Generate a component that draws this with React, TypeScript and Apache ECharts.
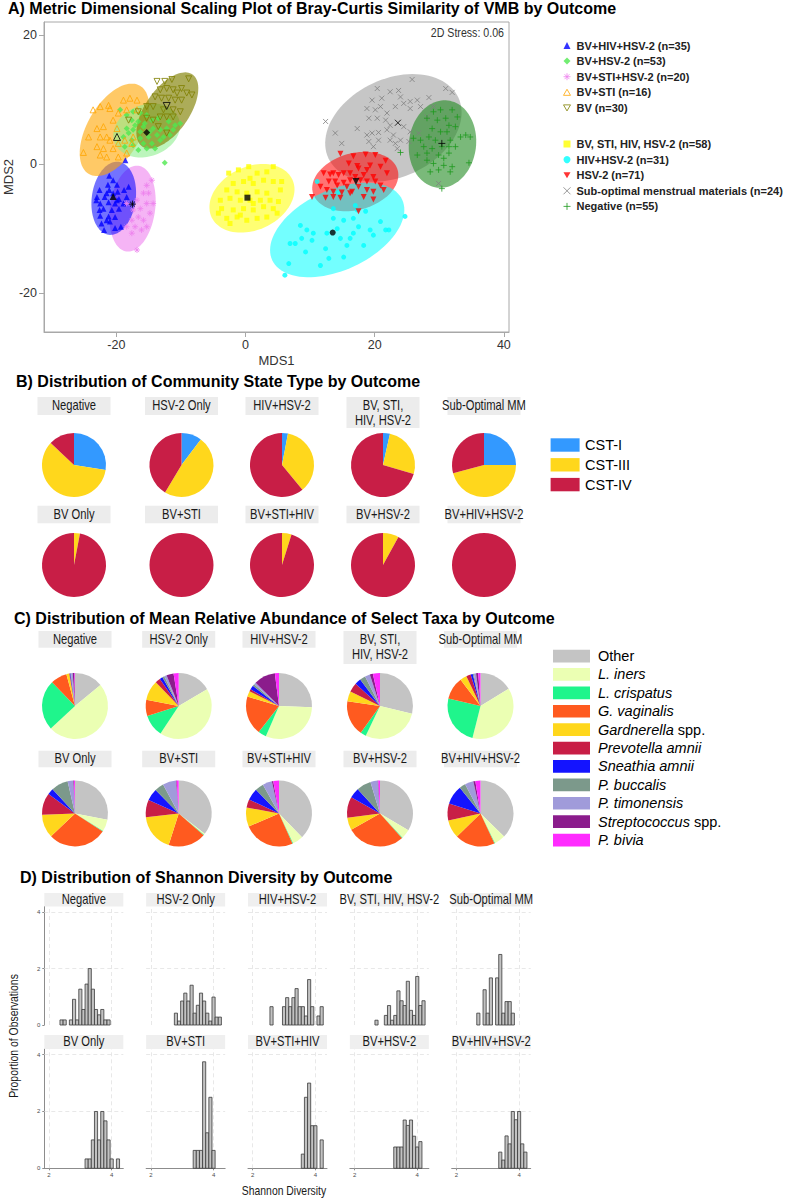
import React, { useEffect, useRef } from 'react';
import * as echarts from 'echarts';

const FONT = '"Liberation Sans", Arial, Helvetica, sans-serif';
const NARROW = 0.8;

// ---------------- Panel A: MDS scatter ----------------
const groupNames = [
  'BV+HIV+HSV-2 (n=35)', 'BV+HSV-2 (n=53)', 'BV+STI+HSV-2 (n=20)', 'BV+STI (n=16)', 'BV (n=30)',
  'BV, STI, HIV, HSV-2 (n=58)', 'HIV+HSV-2 (n=31)', 'HSV-2 (n=71)', 'Sub-optimal menstrual materials (n=24)', 'Negative (n=55)',
];
const groupColors = ['#0000FF', '#4FE84F', '#EE82EE', '#FFA500', '#808000', '#FFFF00', '#00FFFF', '#FF0000', '#7F7F7F', '#1E9A1E'];
const ellipseFills = [
  'rgba(0,0,255,0.55)', 'rgba(144,238,144,0.6)', 'rgba(238,130,238,0.6)', 'rgba(255,165,0,0.6)', 'rgba(128,128,0,0.65)',
  'rgba(255,255,0,0.55)', 'rgba(0,255,255,0.55)', 'rgba(255,0,0,0.55)', 'rgba(160,160,160,0.6)', 'rgba(34,139,34,0.6)',
];

const ptsBvHivHsv2 = [[-18.6,0.6],[-21.1,-1.8],[-20.5,-2.5],[-21.3,-3.2],[-19.9,-3.2],[-22.6,-4.0],[-21.1,-4.0],[-19.8,-4.3],[-18.8,-4.0],[-23.0,-5.1],[-21.8,-5.1],[-19.6,-5.4],[-18.4,-5.1],[-22.5,-6.1],[-21.2,-5.9],[-20.2,-6.1],[-18.9,-6.1],[-22.0,-6.9],[-20.7,-7.1],[-19.6,-6.9],[-22.5,-8.0],[-21.2,-8.1],[-20.2,-8.2],[-22.3,-9.2],[-21.0,-8.9],[-20.2,-9.9],[-21.9,-10.2],[-19.3,-9.7],[-23.1,-5.6],[-18.1,-3.5],[-20.5,-4.5],[-21.5,-4.5],[-19.9,-5.6],[-22.6,-7.1],[-21.5,-8.7]];
const ptsBvHsv2 = [[-19.4,8.4],[-18.4,7.6],[-17.4,8.1],[-16.3,7.9],[-15.3,7.6],[-17.6,6.8],[-16.6,6.6],[-15.6,6.3],[-14.5,6.8],[-13.5,7.1],[-11.9,6.6],[-10.9,6.0],[-10.1,6.3],[-18.4,5.5],[-17.4,5.3],[-16.3,5.0],[-14.3,5.5],[-13.2,5.3],[-12.2,5.5],[-11.2,5.3],[-18.9,4.2],[-17.6,3.7],[-16.3,4.0],[-15.0,4.2],[-13.7,4.5],[-12.7,4.2],[-11.7,4.5],[-18.7,2.7],[-17.4,2.9],[-15.8,3.2],[-14.5,3.2],[-13.2,3.7],[-16.6,2.2],[-15.3,2.4],[-14.0,2.4],[-12.5,0.2],[-18.1,4.8],[-17.1,6.0],[-14.8,5.0],[-15.8,5.8]];
const ptsBvStiHsv2 = [[-14.5,-2.5],[-15.3,-3.3],[-15.8,-4.5],[-15.0,-4.5],[-16.8,-5.6],[-15.3,-6.1],[-14.3,-6.1],[-16.3,-6.9],[-17.4,-7.1],[-14.8,-7.6],[-16.6,-8.2],[-17.6,-8.7],[-15.8,-8.7],[-18.4,-9.7],[-17.1,-9.7],[-16.1,-10.2],[-15.3,-9.7],[-17.6,-10.7],[-16.8,-13.3],[-18.4,-6.1]];
const ptsBvSti = [[-23.6,8.4],[-22.5,8.9],[-21.2,9.1],[-21.0,8.6],[-17.9,10.2],[-18.9,9.9],[-16.8,9.9],[-19.7,7.9],[-18.4,8.4],[-16.8,8.4],[-23.0,5.5],[-22.0,5.8],[-21.5,4.2],[-20.5,6.8],[-19.9,5.5],[-22.5,4.2],[-21.0,3.7],[-19.7,3.2],[-18.7,3.7],[-17.6,3.2],[-23.0,2.7],[-22.0,2.4],[-20.5,2.4],[-19.7,1.1],[-22.5,1.4],[-25.1,1.8],[-21.5,1.1],[-18.4,1.7],[-17.4,4.2],[-24.3,4.2]];
const ptsBv = [[-13.7,12.8],[-12.5,12.8],[-11.4,13.1],[-8.8,13.2],[-9.9,11.7],[-9.1,11.0],[-8.3,10.7],[-13.2,11.5],[-12.2,11.7],[-11.2,11.5],[-10.6,11.0],[-14.0,10.4],[-13.0,10.2],[-11.9,10.2],[-10.9,9.9],[-9.9,9.9],[-15.3,8.9],[-14.3,8.9],[-12.7,8.4],[-11.2,8.4],[-13.2,7.3],[-12.2,7.3],[-11.2,7.3],[-14.3,6.8],[-15.3,7.1],[-13.5,5.8],[-12.2,4.8],[-18.1,6.8],[-16.6,8.1],[-10.1,8.1]];
const ptsBvStiHivHsv2 = [[-2.6,-1.4],[-1.1,-0.9],[0.5,-0.4],[1.8,-1.4],[3.3,-1.2],[4.3,-0.4],[5.6,-2.7],[-1.9,-3.0],[-0.3,-2.7],[1.2,-3.0],[2.8,-2.5],[4.3,-2.7],[-2.9,-4.0],[-1.3,-4.3],[0.2,-4.5],[1.8,-4.3],[3.3,-4.5],[5.4,-4.0],[-3.9,-5.6],[-2.4,-5.3],[-0.8,-5.6],[0.7,-5.6],[2.3,-5.6],[3.8,-5.6],[5.1,-5.8],[-3.7,-6.9],[-1.9,-7.1],[-0.3,-6.9],[1.2,-7.1],[2.8,-6.6],[4.3,-6.9],[-2.9,-8.4],[-1.3,-8.2],[0.2,-8.7],[1.8,-8.4],[3.3,-8.2],[-2.4,-9.2],[-0.8,-7.9],[1.2,-6.1],[4.9,-7.6],[-4.2,-7.6],[0.7,-2.2]];
const ptsHivHsv2 = [[6.1,-17.2],[6.7,-15.4],[6.9,-12.3],[7.7,-12.3],[8.5,-9.5],[8.7,-11.5],[9.3,-13.6],[10.3,-11.8],[11.6,-15.7],[12.4,-13.1],[12.9,-14.6],[13.6,-6.9],[13.6,-8.4],[14.2,-10.0],[14.7,-11.5],[15.2,-14.4],[15.7,-12.6],[16.2,-11.5],[16.7,-8.4],[17.5,-9.7],[18.3,-12.6],[19.3,-10.2],[19.8,-11.0],[20.9,-8.9],[21.7,-10.2],[22.2,-10.2],[24.7,-8.1],[17.3,-7.1],[15.2,-8.7],[11.1,-2.7],[14.4,-4.4],[17.0,-6.4],[18.6,-7.3],[12.6,-10.7],[10.5,-10.7],[16.7,-10.7],[9.5,-10.2]];
const ptsHsv2 = [[14.7,1.6],[16.7,1.2],[18.6,1.5],[20.1,1.4],[21.7,0.5],[16.0,0.1],[17.3,-0.3],[17.5,-0.7],[19.3,-0.2],[20.9,-0.4],[12.1,-1.4],[13.1,-1.6],[13.6,-1.4],[14.4,-1.7],[15.2,-1.4],[16.2,-1.4],[17.0,-2.0],[18.3,-1.7],[19.8,-2.0],[21.9,-1.4],[12.9,-2.7],[13.9,-2.7],[15.2,-2.9],[16.2,-2.5],[17.8,-2.5],[18.8,-2.7],[20.1,-2.7],[12.6,-4.0],[13.6,-4.3],[14.9,-4.4],[16.5,-4.3],[17.5,-3.5],[18.8,-4.0],[19.8,-4.3],[21.4,-4.0],[10.3,-5.1],[12.4,-5.2],[13.6,-5.1],[14.7,-5.2],[16.2,-4.5],[18.3,-5.1],[19.8,-5.5],[14.2,-3.3],[15.7,-3.5],[17.5,-7.3],[11.6,-3.5],[20.9,-3.3],[18.8,-0.9]];
const ptsSubOptimal = [[20.4,11.7],[25.8,13.1],[21.1,10.2],[22.4,11.2],[23.7,11.4],[24.0,10.4],[19.6,9.9],[20.9,8.9],[23.2,8.9],[24.5,9.4],[25.5,9.7],[26.6,9.9],[28.4,10.3],[31.0,11.7],[32.0,11.1],[18.8,8.6],[20.1,8.4],[21.9,7.9],[25.5,8.6],[27.1,8.9],[12.4,6.6],[17.3,5.5],[19.1,7.1],[20.4,7.1],[21.7,6.8],[22.4,6.0],[24.5,5.8],[25.5,5.0],[13.9,4.8],[14.9,3.2],[18.8,4.5],[19.6,4.8],[20.6,4.9],[21.9,5.3],[22.9,4.5],[24.0,3.7],[25.3,3.5],[19.1,3.5],[20.6,3.7],[22.4,3.7],[23.2,3.2],[23.5,2.4],[19.8,2.7],[29.1,8.9],[29.9,-3.0],[26.8,4.8],[28.1,7.3]];
const ptsNegative = [[29.1,8.1],[30.2,8.4],[32.0,8.4],[28.1,7.1],[29.7,6.8],[31.0,7.1],[31.5,6.0],[32.5,5.8],[28.9,5.5],[30.2,5.0],[31.2,5.0],[33.3,4.2],[34.1,4.5],[34.8,4.2],[26.0,4.0],[27.1,3.7],[28.4,4.2],[29.4,3.7],[31.7,3.7],[27.6,2.7],[28.9,2.4],[30.4,2.7],[31.5,2.7],[32.5,2.7],[26.6,1.4],[28.1,1.7],[29.9,1.4],[31.5,1.7],[28.1,0.6],[29.1,0.1],[30.7,-0.2],[34.6,0.2],[28.6,-1.2],[29.9,-0.9],[31.7,-1.2],[30.4,-3.8],[24.0,1.8],[32.8,7.3],[30.7,0.9],[32.0,-0.4]];
const groupPoints = [ptsBvHivHsv2, ptsBvHsv2, ptsBvStiHsv2, ptsBvSti, ptsBv, ptsBvStiHivHsv2, ptsHivHsv2, ptsHsv2, ptsSubOptimal, ptsNegative];

// group centroids
const centroids = [[-20.5,-5.0],[-15.3,4.9],[-17.5,-6.2],[-19.9,4.2],[-12.2,9.0],[0.3,-5.2],[13.5,-10.6],[17.1,-2.7],[23.6,6.4],[30.4,3.2]];

// ellipses: [centre x, centre y, semi-major, semi-minor, angle in degrees]
const ellBvHivHsv2 = [-20.4, -5.3, 5.7, 3.4, 82];
const ellBvHsv2 = [-15.3, 5.2, 5.3, 4.0, 20];
const ellBvStiHsv2 = [-17.5, -6.9, 6.7, 3.5, 82];
const ellBvSti = [-20.3, 5.3, 7.9, 4.2, 60];
const ellBv = [-12.1, 8.3, 6.8, 3.4, 55];
const ellBvStiHivHsv2 = [1.0, -5.3, 6.9, 4.9, 25];
const ellHivHsv2 = [14.2, -10.2, 11.1, 6.2, 25];
const ellHsv2 = [17.0, -2.7, 6.8, 4.4, 15];
const ellSubOptimal = [22.9, 5.6, 11.1, 7.6, 25];
const ellNegative = [30.5, 3.1, 6.8, 5.2, 83];
const groupEllipses = [ellBvHivHsv2, ellBvHsv2, ellBvStiHsv2, ellBvSti, ellBv, ellBvStiHivHsv2, ellHivHsv2, ellHsv2, ellSubOptimal, ellNegative];
const ellipseDrawOrder = [8, 9, 7, 6, 5, 2, 0, 3, 1, 4];

const xTicksA = [-20, 0, 20, 40];
const yTicksA = [-20, 0, 20];

// ---------------- Panel B: CST pies ----------------
const outcomesTop = ['Negative', 'HSV-2 Only', 'HIV+HSV-2', 'BV, STI,\nHIV, HSV-2', 'Sub-Optimal MM'];
const outcomesBottom = ['BV Only', 'BV+STI', 'BV+STI+HIV', 'BV+HSV-2', 'BV+HIV+HSV-2'];
const outcomesD = ['Negative', 'HSV-2 Only', 'HIV+HSV-2', 'BV, STI, HIV, HSV-2', 'Sub-Optimal MM', 'BV Only', 'BV+STI', 'BV+STI+HIV', 'BV+HSV-2', 'BV+HIV+HSV-2'];

const cstCats = ['CST-I', 'CST-III', 'CST-IV'];
const cstColors = ['#3399FF', '#FFD71C', '#C81E46'];
const cstNegative = [27.5, 59.5, 13];
const cstHsv2Only = [10.3, 48.3, 41.4];
const cstHivHsv2 = [3, 36, 61];
const cstBvStiHivHsv2 = [3.5, 26, 70.5];
const cstSubOptimal = [25, 45.8, 29.2];
const cstBvOnly = [0, 3, 97];
const cstBvSti = [0, 0, 100];
const cstBvStiHiv = [0, 4.8, 95.2];
const cstBvHsv2 = [0, 8, 92];
const cstBvHivHsv2 = [0, 0, 100];
const cstAll = [cstNegative, cstHsv2Only, cstHivHsv2, cstBvStiHivHsv2, cstSubOptimal, cstBvOnly, cstBvSti, cstBvStiHiv, cstBvHsv2, cstBvHivHsv2];

// ---------------- Panel C: taxa pies ----------------
const taxa = ['Other', 'L. iners', 'L. crispatus', 'G. vaginalis', 'Gardnerella spp.', 'Prevotella amnii', 'Sneathia amnii', 'P. buccalis', 'P. timonensis', 'Streptococcus spp.', 'P. bivia'];
const taxaLegend = ['Other', '{i|L. iners}', '{i|L. crispatus}', '{i|G. vaginalis}', '{i|Gardnerella} spp.', '{i|Prevotella amnii}', '{i|Sneathia amnii}', '{i|P. buccalis}', '{i|P. timonensis}', '{i|Streptococcus} spp.', '{i|P. bivia}'];
const taxaColors = ['#C4C4C4', '#EBFFB3', '#1FF58C', '#FF5A1F', '#FFD71C', '#C81E46', '#1414FF', '#7C998B', '#A09BDA', '#8B1C8C', '#FF2BFF'];
const taxaNegative = [14, 49, 24.6, 8, 1.4, 0.3, 0.3, 0.3, 0.8, 0.8, 0.3];
const taxaHsv2Only = [16.5, 42.8, 10.8, 7.9, 9.8, 2.5, 1.5, 1, 1.2, 3.5, 2.5];
const taxaHivHsv2 = [25.5, 30.8, 4, 19, 2.8, 1, 2, 1, 1, 10.5, 2];
const taxaBvStiHivHsv2 = [28.9, 28.5, 2.8, 17.5, 5, 4.5, 3, 2.8, 2.5, 1.5, 3.5];
const taxaSubOptimal = [16.4, 38, 24.9, 11.2, 3.3, 2.2, 1.1, 0.5, 1.1, 1.1, 1.1];
const taxaBvOnly = [28, 5.9, 0.3, 28.8, 11.5, 10.7, 3, 8.3, 2.8, 0.3, 0.5];
const taxaBvSti = [35.7, 0.6, 0.3, 18.6, 18.4, 8.5, 6, 4.5, 6.6, 0.3, 1];
const taxaBvStiHiv = [37.8, 5.3, 0.3, 25.3, 9.4, 4, 5.8, 4.2, 4.6, 0.7, 2.8];
const taxaBvHsv2 = [33, 4.5, 0.3, 28, 6, 10, 5, 7, 3.5, 0.3, 0.8];
const taxaBvHivHsv2 = [37.2, 5.4, 0.3, 19.5, 8.9, 8.3, 9.3, 3, 4.2, 1, 2.5];
const taxaAll = [taxaNegative, taxaHsv2Only, taxaHivHsv2, taxaBvStiHivHsv2, taxaSubOptimal, taxaBvOnly, taxaBvSti, taxaBvStiHiv, taxaBvHsv2, taxaBvHivHsv2];

// ---------------- Panel D: Shannon diversity histograms [bin centre, density] ----------------
const BIN = 0.1;
const histNegative = [[2.4,0.18],[2.5,0.18],[2.7,0.18],[2.8,0.91],[2.9,0.18],[3.0,1.27],[3.1,0.55],[3.2,1.45],[3.3,2.0],[3.4,1.27],[3.5,0.55],[3.6,0.36],[3.7,0.55],[3.8,0.18],[3.9,0.18]];
const histHsv2Only = [[2.8,0.42],[2.9,0.14],[3.0,0.85],[3.1,1.13],[3.2,0.85],[3.3,1.41],[3.4,0.42],[3.5,0.7],[3.6,1.13],[3.7,0.85],[3.8,0.42],[3.9,0.14],[4.0,0.99],[4.1,0.28],[4.2,0.28]];
const histHivHsv2 = [[2.6,0.65],[3.0,0.65],[3.1,0.97],[3.2,0.65],[3.3,0.97],[3.4,1.29],[3.5,0.65],[3.6,0.65],[3.7,0.32],[3.8,1.61],[3.9,0.65],[4.1,0.32],[4.2,0.65]];
const histBvStiHivHsv2 = [[2.7,0.17],[3.0,0.34],[3.1,0.69],[3.2,0.17],[3.3,0.34],[3.4,1.21],[3.5,0.86],[3.6,0.69],[3.7,1.55],[3.8,0.52],[3.9,0.34],[4.0,1.72],[4.1,0.69],[4.2,0.86]];
const histSubOptimal = [[2.7,0.42],[2.9,1.25],[3.0,0.42],[3.1,1.67],[3.3,1.67],[3.4,2.5],[3.5,0.42],[3.6,0.83],[3.7,0.83],[3.8,0.42]];
const histBvOnly = [[3.2,0.33],[3.3,0.33],[3.4,1.0],[3.5,2.0],[3.6,1.0],[3.7,2.0],[3.8,1.67],[3.9,1.0],[4.0,0.33],[4.2,0.33]];
const histBvSti = [[3.4,0.63],[3.5,0.63],[3.6,0.63],[3.7,3.75],[3.8,1.25],[3.9,2.5],[4.0,0.63]];
const histBvStiHiv = [[3.6,0.5],[3.7,2.5],[3.8,3.0],[3.9,1.5],[4.0,1.5],[4.2,1.0]];
const histBvHsv2 = [[3.3,0.75],[3.4,0.75],[3.5,0.75],[3.6,1.7],[3.7,1.51],[3.8,1.7],[3.9,1.13],[4.0,0.75],[4.1,0.94]];
const histBvHivHsv2 = [[3.4,0.57],[3.5,0.29],[3.6,1.14],[3.7,0.86],[3.8,2.0],[3.9,1.71],[4.0,2.0],[4.1,0.86],[4.2,0.57]];
const histAll = [histNegative, histHsv2Only, histHivHsv2, histBvStiHivHsv2, histSubOptimal, histBvOnly, histBvSti, histBvStiHiv, histBvHsv2, histBvHivHsv2];
const xTicksD = [2, 4];
const yTicksD = [0, 2, 4];

// ---------------- symbols ----------------
const TRI_OPEN = 'path://M0,-1L0.866,0.5L-0.866,0.5Z';
const TRI_DOWN = 'path://M0,1L0.866,-0.5L-0.866,-0.5Z';
const STAR = 'path://M0,-1L0,1M-1,0L1,0M-0.7,-0.7L0.7,0.7M-0.7,0.7L0.7,-0.7';
const CROSS_X = 'path://M-1,-1L1,1M-1,1L1,-1';
const PLUS = 'path://M0,-1L0,1M-1,0L1,0';
const groupSymbols = ['triangle', 'diamond', STAR, TRI_OPEN, TRI_DOWN, 'rect', 'circle', TRI_DOWN, CROSS_X, PLUS];
const groupSizes = [6, 6, 6, 6, 6, 5, 5, 6, 5, 6];
const groupHollow = [false, false, true, true, true, false, false, false, true, true];

function styleFor(i: number, color: string) {
  return groupHollow[i]
    ? { color: 'rgba(0,0,0,0)', borderColor: color, borderWidth: 1 }
    : { color, borderWidth: 0 };
}

function label(x: number, y: number, text: string, o: any = {}) {
  const align = o.align ?? 'left';
  return {
    type: 'text', x, y, silent: true, z: 100,
    scaleX: o.scaleX ?? 1, rotation: o.rotation ?? 0,
    style: {
      text, fill: o.color ?? '#1A1A1A',
      fontSize: o.size ?? 12, fontWeight: o.weight ?? 'normal', fontStyle: o.italic ? 'italic' : 'normal',
      fontFamily: FONT,
      textAlign: align, align, textVerticalAlign: 'middle', verticalAlign: 'middle',
      lineHeight: o.lineHeight, rich: o.rich,
    },
  };
}
function box(x: number, y: number, w: number, h: number, fill: string) {
  return { type: 'rect', silent: true, z: 99, shape: { x, y, width: w, height: h }, style: { fill } };
}

function buildOption() {
  const G: any[] = [];
  // titles
  G.push(label(8, 8.5, 'A) Metric Dimensional Scaling Plot of Bray-Curtis Similarity of VMB by Outcome', { size: 16, weight: 'bold', color: '#000' }));
  G.push(label(16, 381, 'B) Distribution of Community State Type by Outcome', { size: 16, weight: 'bold', color: '#000' }));
  G.push(label(14, 618, 'C) Distribution of Mean Relative Abundance of Select Taxa by Outcome', { size: 16, weight: 'bold', color: '#000' }));
  G.push(label(20, 877.5, 'D) Distribution of Shannon Diversity by Outcome', { size: 16, weight: 'bold', color: '#000' }));

  // panel A texts
  G.push(label(504, 31.7, '2D Stress: 0.06', { size: 12.5, align: 'right', color: '#333', scaleX: 0.85 }));
  G.push(label(276.5, 360, 'MDS1', { size: 13, align: 'center', color: '#333' }));
  G.push(label(8.5, 177, 'MDS2', { size: 13, align: 'center', color: '#333', rotation: Math.PI / 2 }));

  // panel B / C strips
  const bX = [74, 181.5, 282, 383, 484];
  const cX = [75, 178.7, 279, 380, 480.5];
  outcomesTop.forEach((t, i) => {
    const two = t.includes('\n');
    G.push(box(bX[i] - 36.5, 397, 73, two ? 31 : 18, '#ECECEC'));
    G.push(label(bX[i], two ? 413 : 406, t, { size: 14, align: 'center', scaleX: NARROW, lineHeight: 15 }));
    G.push(box(cX[i] - 36.5, 631, 73, two ? 33 : 16.7, '#ECECEC'));
    G.push(label(cX[i], two ? 647.5 : 639.5, t, { size: 14, align: 'center', scaleX: NARROW, lineHeight: 15 }));
  });
  outcomesBottom.forEach((t, i) => {
    G.push(box(bX[i] - 36.5, 505.7, 73, 17.6, '#ECECEC'));
    G.push(label(bX[i], 514.5, t, { size: 14, align: 'center', scaleX: NARROW }));
    G.push(box(cX[i] - 36.5, 750.7, 73, 16.6, '#ECECEC'));
    G.push(label(cX[i], 759, t, { size: 14, align: 'center', scaleX: NARROW }));
  });

  // B legend
  cstCats.forEach((c, i) => {
    const cy = 445 + i * 19.8;
    G.push(box(550.6, cy - 6.7, 29, 13.4, cstColors[i]));
    G.push(label(585, cy, c, { size: 14.5, color: '#000' }));
  });
  // C legend
  taxaLegend.forEach((t, i) => {
    const cy = 656 + i * 18.4;
    G.push(box(553, cy - 6.3, 37, 12.7, taxaColors[i]));
    G.push(label(598, cy, t, {
      size: 14.5, color: '#000',
      rich: { i: { fontStyle: 'italic', fontSize: 14.5, fontFamily: FONT, fill: '#000' } },
    }));
  });

  // panel D strips & titles
  const dLeft = (k: number) => 44.3 + (k % 5) * 101.85;
  outcomesD.forEach((t, k) => {
    const row = k < 5 ? 0 : 1;
    G.push(box(dLeft(k), row === 0 ? 893 : 1035, 79, row === 0 ? 13.5 : 14, '#EFEFEF'));
    G.push(label(dLeft(k) + 39.5, row === 0 ? 900 : 1042, t, { size: 14, align: 'center', scaleX: NARROW }));
  });
  G.push(label(13.5, 1036, 'Proportion of Observations', { size: 13, align: 'center', rotation: Math.PI / 2, scaleX: NARROW }));
  G.push(label(284, 1190, 'Shannon Diversity', { size: 13, align: 'center', scaleX: NARROW }));

  // ---------- grids & axes ----------
  const grids: any[] = [{ left: 44, top: 22, width: 465, height: 310, show: true, borderColor: '#A8A8A8', borderWidth: 1, backgroundColor: 'rgba(0,0,0,0)', outerBoundsMode: 'none', containLabel: false }];
  const xAxes: any[] = [{
    gridIndex: 0, type: 'value', min: -31.2, max: 40.8,
    axisLine: { show: true, onZero: false, lineStyle: { color: '#A8A8A8' } },
    axisTick: { show: true, customValues: xTicksA, length: 5, lineStyle: { color: '#A8A8A8' } },
    axisLabel: { show: true, customValues: xTicksA, fontSize: 12.5, color: '#333', margin: 6, fontFamily: FONT },
    splitLine: { show: false },
  }];
  const yAxes: any[] = [{
    gridIndex: 0, type: 'value', min: -26, max: 22,
    axisLine: { show: true, onZero: false, lineStyle: { color: '#A8A8A8' } },
    axisTick: { show: true, customValues: yTicksA, length: 5, lineStyle: { color: '#A8A8A8' } },
    axisLabel: { show: true, customValues: yTicksA, fontSize: 12.5, color: '#333', margin: 7, fontFamily: FONT },
    splitLine: { show: false },
  }];
  for (let k = 0; k < 10; k++) {
    const row = k < 5 ? 0 : 1;
    const col = k % 5;
    grids.push({ left: dLeft(k), top: row === 0 ? 906.5 : 1049, width: 79, height: row === 0 ? 118.5 : 119.3, show: false, outerBoundsMode: 'none', containLabel: false });
    xAxes.push({
      gridIndex: k + 1, type: 'value', min: 1.85, max: 4.37,
      axisLine: { show: row === 1, onZero: false, lineStyle: { color: '#8C8C8C', width: 1 } },
      axisTick: { show: row === 1, customValues: xTicksD, length: 2, lineStyle: { color: '#8C8C8C' } },
      axisLabel: { show: row === 1, customValues: xTicksD, fontSize: 6, color: '#4D4D4D', margin: 4, fontFamily: FONT },
      splitLine: { show: false },
    });
    yAxes.push({
      gridIndex: k + 1, type: 'value', min: 0, max: 4.2,
      axisLine: { show: col === 0, onZero: false, lineStyle: { color: '#8C8C8C', width: 1 } },
      axisTick: { show: col === 0, customValues: yTicksD, length: 2, lineStyle: { color: '#8C8C8C' } },
      axisLabel: { show: col === 0, customValues: yTicksD, fontSize: 6, color: '#4D4D4D', margin: 4, fontFamily: FONT },
      splitLine: { show: false },
    });
  }

  // ---------- series ----------
  const series: any[] = [];
  // ellipses
  series.push({
    type: 'custom', name: 'ellipses', xAxisIndex: 0, yAxisIndex: 0, silent: true, z: 1, clip: true,
    data: ellipseDrawOrder.map((g) => [groupEllipses[g][0], groupEllipses[g][1], g]),
    encode: { x: 0, y: 1 },
    renderItem: (params: any, api: any) => {
      const g = ellipseDrawOrder[params.dataIndex];
      const [cx, cy, a, b, ang] = groupEllipses[g];
      const th = (ang * Math.PI) / 180;
      const pts: number[][] = [];
      for (let s = 0; s < 96; s++) {
        const t = (s / 96) * Math.PI * 2;
        const x = cx + a * Math.cos(t) * Math.cos(th) - b * Math.sin(t) * Math.sin(th);
        const y = cy + a * Math.cos(t) * Math.sin(th) + b * Math.sin(t) * Math.cos(th);
        pts.push(api.coord([x, y]));
      }
      return { type: 'polygon', shape: { points: pts }, style: { fill: ellipseFills[g], stroke: 'none' } };
    },
  });
  // points
  groupNames.forEach((name, i) => {
    series.push({
      type: 'scatter', name, xAxisIndex: 0, yAxisIndex: 0, silent: true, z: 3,
      symbol: groupSymbols[i], symbolSize: groupSizes[i],
      itemStyle: styleFor(i, groupColors[i]),
      data: groupPoints[i],
    });
  });
  // centroids
  series.push({
    type: 'scatter', name: 'centroids', xAxisIndex: 0, yAxisIndex: 0, silent: true, z: 4,
    data: centroids.map((c, i) => ({
      value: c, symbol: groupSymbols[i], symbolSize: groupSizes[i] + 1,
      itemStyle: styleFor(i, '#000'),
    })),
  });
  // B pies
  const pieBase = {
    type: 'pie', silent: true, startAngle: 90, clockwise: true, avoidLabelOverlap: false,
    label: { show: false }, labelLine: { show: false }, emphasis: { disabled: true },
    itemStyle: { borderWidth: 0 }, minAngle: 0,
  };
  cstAll.forEach((vals, k) => {
    series.push({
      ...pieBase, name: 'cst' + k,
      center: [bX[k % 5], k < 5 ? 465 : 565], radius: 32,
      data: vals.map((v, j) => ({ value: v, name: cstCats[j], itemStyle: { color: cstColors[j], borderWidth: 0 } })),
    });
  });
  // C pies
  taxaAll.forEach((vals, k) => {
    series.push({
      ...pieBase, name: 'taxa' + k,
      center: [cX[k % 5], k < 5 ? 706 : 813.5], radius: 33,
      data: vals.map((v, j) => ({ value: v, name: taxa[j], itemStyle: { color: taxaColors[j], borderWidth: 0 } })),
    });
  });
  // D grid lines & histograms
  histAll.forEach((h, k) => {
    series.push({
      type: 'lines', coordinateSystem: 'cartesian2d', xAxisIndex: k + 1, yAxisIndex: k + 1, silent: true, z: 1,
      lineStyle: { color: '#E2E2E2', width: 0.8, type: [4, 3], opacity: 1 },
      data: [
        { coords: [[2, 0], [2, 4.2]] }, { coords: [[4, 0], [4, 4.2]] },
        { coords: [[1.85, 2], [4.37, 2]] }, { coords: [[1.85, 4], [4.37, 4]] },
      ],
    });
    series.push({
      type: 'custom', name: 'hist' + k, xAxisIndex: k + 1, yAxisIndex: k + 1, silent: true, z: 2,
      data: h, encode: { x: 0, y: 1 },
      renderItem: (params: any, api: any) => {
        const c = api.value(0);
        const v = api.value(1);
        const p0 = api.coord([c - BIN / 2, v]);
        const p1 = api.coord([c + BIN / 2, 0]);
        return {
          type: 'rect',
          shape: { x: p0[0], y: p0[1], width: p1[0] - p0[0], height: p1[1] - p0[1] },
          style: { fill: '#C2C2C2', stroke: '#3A3A3A', lineWidth: 0.8 },
        };
      },
    });
  });

  const legendItems = (from: number) => groupNames.slice(from, from + 5).map((name, j) => {
    const g = from + j;
    return { name, icon: groupSymbols[g], itemStyle: styleFor(g, groupColors[g]) };
  });
  const legendBase = {
    orient: 'vertical', left: 563, itemWidth: 7, itemHeight: 7, itemGap: 4.6, padding: 0, selectedMode: false,
    textStyle: { fontSize: 11, fontWeight: 'bold', color: '#222', fontFamily: FONT, lineHeight: 11, padding: [0, 0, 0, 1] },
  };

  return {
    animation: false,
    backgroundColor: '#fff',
    textStyle: { fontFamily: FONT },
    grid: grids,
    xAxis: xAxes,
    yAxis: yAxes,
    legend: [
      { ...legendBase, top: 40, data: legendItems(0) },
      { ...legendBase, top: 138.5, data: legendItems(5) },
    ],
    graphic: G,
    series,
  };
}

export default function App() {
  const ref = useRef<HTMLDivElement>(null);
  useEffect(() => {
    const chart = echarts.init(ref.current!, null, { renderer: 'svg' });
    chart.setOption(buildOption() as any);
    return () => chart.dispose();
  }, []);
  return <div ref={ref} style={{ position: 'absolute', left: 0, top: 0, width: 797, height: 1199, background: '#fff' }} />;
}
